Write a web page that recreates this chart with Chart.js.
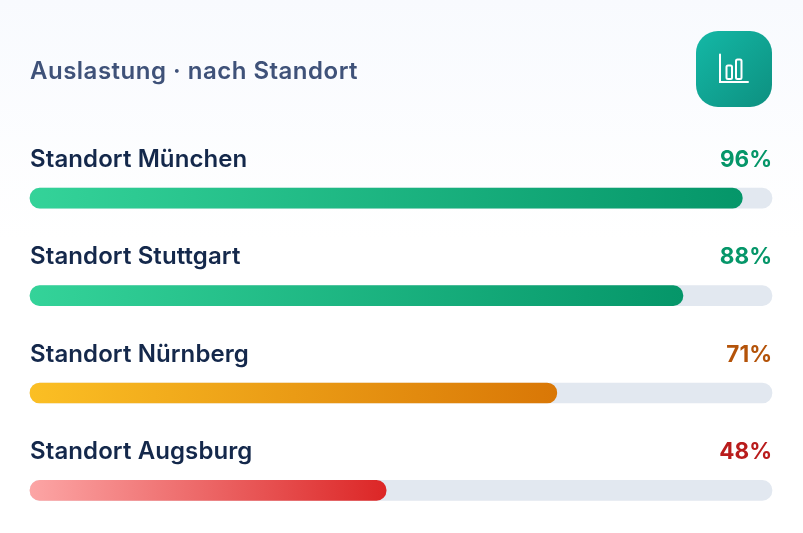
<!DOCTYPE html>
<html lang="de">
<head>
<meta charset="utf-8">
<title>Auslastung nach Standort</title>
<script src="https://cdn.jsdelivr.net/npm/chart.js@4"></script>
<style>
html, body { margin: 0; padding: 0; }
body {
    width: 803px; height: 533px; position: relative; overflow: hidden;
    background: linear-gradient(180deg, #f8fafe 0%, #ffffff 45%);
}
#chart { position: absolute; left: 0; top: 0; }
#title {
    position: absolute; left: 30px; top: 56px;
    font: 600 24px Inter, sans-serif; letter-spacing: 0.5px; color: #3f5279; white-space: nowrap;
}
#icon {
    position: absolute; left: 696px; top: 31px; width: 76px; height: 76px;
    border-radius: 22px; background: linear-gradient(135deg, #14b8a6, #0d9080);
}
</style>
</head>
<body>
<canvas id="chart" width="803" height="533"></canvas>
<div id="title">Auslastung · nach Standort</div>
<div id="icon">
    <svg width="76" height="76" viewBox="0 0 76 76" fill="none" stroke="#fff" stroke-width="2" stroke-linecap="round">
        <path d="M24 23.5V51H52"/>
        <rect x="30.5" y="34.5" width="5.5" height="13.5" rx="1.5"/>
        <rect x="40" y="28.5" width="5.5" height="19.5" rx="1.5"/>
    </svg>
</div>
<script>
const standorte = ['Standort München', 'Standort Stuttgart', 'Standort Nürnberg', 'Standort Augsburg'];
const auslastung = [96, 88, 71, 48];
const gesamt = [100, 100, 100, 100];
const barStart = ['#34d399', '#34d399', '#fbbf24', '#fca5a5'];
const barEnd = ['#059669', '#059669', '#d97706', '#dc2626'];
const valueColors = ['#059669', '#059669', '#b45309', '#b91c1c'];

function barGradient(ctx) {
    const chart = ctx.chart;
    // chartArea is not there yet on the very first resolve
    if (!chart.chartArea) return barEnd[ctx.dataIndex];
    const xScale = chart.scales.x;
    const g = chart.ctx.createLinearGradient(xScale.getPixelForValue(0), 0, xScale.getPixelForValue(auslastung[ctx.dataIndex]), 0);
    g.addColorStop(0, barStart[ctx.dataIndex]);
    g.addColorStop(1, barEnd[ctx.dataIndex]);
    return g;
}

// Standort names and percentages above each bar
const rowLabels = {
    id: 'rowLabels',
    afterDatasetsDraw(chart) {
        const { ctx, scales } = chart;
        ctx.save();
        ctx.textBaseline = 'alphabetic';
        standorte.forEach((name, i) => {
            const y = Math.floor(scales.y.getPixelForValue(i)) - 31;
            ctx.font = '600 24px Inter, sans-serif';
            ctx.letterSpacing = '0.1px';
            ctx.fillStyle = '#14284b';
            ctx.textAlign = 'left';
            ctx.fillText(name, scales.x.left, y);
            ctx.font = '700 22.5px Inter, sans-serif';
            ctx.letterSpacing = '0px';
            ctx.fillStyle = valueColors[i];
            ctx.textAlign = 'right';
            ctx.fillText(auslastung[i] + '%', scales.x.right, y);
        });
        ctx.restore();
    }
};

new Chart(document.getElementById('chart'), {
    type: 'bar',
    data: {
        labels: standorte,
        datasets: [{
            label: 'Auslastung',
            data: auslastung,
            backgroundColor: barGradient,
            order: 1
        }, {
            label: 'Gesamt',
            data: gesamt,
            backgroundColor: '#e2e8f0',
            order: 2
        }]
    },
    options: {
        indexAxis: 'y',
        responsive: false,
        animation: false,
        layout: { padding: { left: 30, right: 31, top: 198.2, bottom: 42.6 } },
        datasets: {
            bar: { grouped: false, barThickness: 20, borderRadius: 10, borderSkipped: false, clip: false }
        },
        scales: {
            x: { display: false, min: 0, max: 100 },
            y: { display: false, offset: false }
        },
        plugins: {
            legend: { display: false },
            tooltip: { enabled: false }
        }
    },
    plugins: [rowLabels]
});
</script>
</body>
</html>
